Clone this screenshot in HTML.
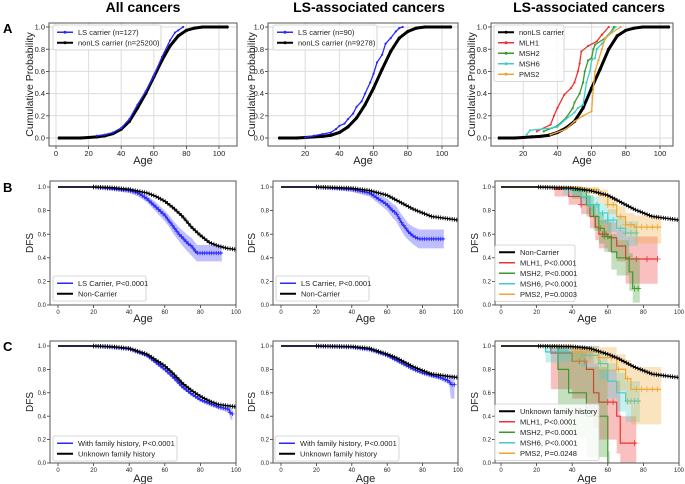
<!DOCTYPE html>
<html><head><meta charset="utf-8">
<style>
html,body{margin:0;padding:0;background:#fff;}
svg{display:block;font-family:"Liberation Sans",sans-serif;}
</style></head>
<body>
<svg id="fig" width="685" height="484" viewBox="0 0 685 484" xmlns="http://www.w3.org/2000/svg"></svg>
<script>
// ===== Data =====
const tickA1 = [0,20,40,60,80,100];
const tickA23 = [20,40,60,80,100];
const tickBC = [0,20,40,60,80,100];
const tickY = [0,0.2,0.4,0.6,0.8,1.0];

// Row A: cumulative probability
const a1NonAge = [2,15,20,25,30,35,40,45,50,55,60,65,70,75,80,85,90,105];
const a1NonVal = [0,0,0.005,0.01,0.02,0.04,0.08,0.15,0.27,0.4,0.55,0.7,0.83,0.92,0.97,0.99,1.0,1.0];
const a1LsAge = [25,30,35,40,45,50,55,60,65,70,73,75,78];
const a1LsVal = [0.02,0.03,0.05,0.09,0.17,0.3,0.42,0.56,0.73,0.88,0.95,0.97,1.0];

const a2NonAge = [5,15,20,25,30,35,40,45,50,55,60,65,70,75,80,85,90,105];
const a2NonVal = [0,0,0.005,0.01,0.015,0.025,0.05,0.1,0.18,0.3,0.45,0.62,0.78,0.9,0.96,0.99,1.0,1.0];
const a2LsAge = [20,25,30,35,38,40,43,45,48,50,53,55,58,60,62,65,67,70,73,75,77];
const a2LsVal = [0.005,0.02,0.035,0.05,0.08,0.11,0.13,0.17,0.22,0.28,0.33,0.4,0.5,0.58,0.68,0.75,0.85,0.9,0.96,0.99,1.0];

const a3NonAge = [6,15,20,25,30,35,40,45,50,55,60,65,70,75,80,85,90,105];
const a3NonVal = [0,0,0.005,0.01,0.015,0.025,0.05,0.09,0.15,0.27,0.45,0.62,0.8,0.92,0.97,0.99,1.0,1.0];
const a3Mlh1Age = [28,36,38,40,44,48,50,52,53,54,58,63,66,70];
const a3Mlh1Val = [0.06,0.12,0.2,0.27,0.39,0.45,0.5,0.6,0.67,0.78,0.83,0.87,0.93,1.0];
const a3Msh2Age = [32,40,45,49,50,53,55,56,58,60,61,62,68,72,73];
const a3Msh2Val = [0.06,0.11,0.18,0.27,0.32,0.4,0.5,0.6,0.7,0.72,0.8,0.84,0.9,0.97,1.0];
const a3Msh6Age = [22,24,37,40,45,50,52,55,57,59,60,62,63,66,70,74];
const a3Msh6Val = [0.03,0.07,0.09,0.1,0.17,0.23,0.27,0.3,0.5,0.6,0.7,0.72,0.8,0.85,0.93,1.0];
const a3Pms2Age = [36,45,50,55,60,61,62,64,66,68,72,77];
const a3Pms2Val = [0.03,0.08,0.15,0.2,0.24,0.45,0.6,0.7,0.8,0.9,0.95,1.0];

// Row B: DFS
const b1NonAge = [0,20,30,40,50,55,60,65,70,75,80,85,90,95,100];
const b1NonVal = [1,1,0.995,0.98,0.95,0.92,0.88,0.82,0.75,0.66,0.59,0.53,0.5,0.48,0.47];
const b1LsAge = [0,20,40,45,50,55,60,63,65,68,70,73,75,78,92];
const b1LsVal = [1,1,0.97,0.95,0.9,0.83,0.76,0.7,0.66,0.6,0.57,0.52,0.5,0.44,0.44];
const b1LsLo  = [1,1,0.95,0.92,0.87,0.79,0.71,0.65,0.6,0.54,0.5,0.45,0.42,0.37,0.37];
const b1LsHi  = [1,1,0.99,0.97,0.93,0.87,0.8,0.75,0.71,0.66,0.63,0.59,0.57,0.51,0.51];

const b2NonAge = [0,20,40,50,60,65,70,75,80,85,90,95,100];
const b2NonVal = [1,1,0.99,0.97,0.93,0.89,0.85,0.81,0.78,0.75,0.74,0.73,0.72];
const b2LsAge = [0,20,40,50,55,60,63,65,68,70,72,75,78,92];
const b2LsVal = [1,1,0.98,0.95,0.9,0.85,0.8,0.78,0.7,0.66,0.62,0.58,0.56,0.56];
const b2LsLo  = [1,1,0.96,0.92,0.86,0.8,0.74,0.71,0.63,0.58,0.55,0.51,0.48,0.48];
const b2LsHi  = [1,1,0.99,0.97,0.94,0.9,0.86,0.84,0.77,0.73,0.69,0.66,0.64,0.64];

const b3NonAge = b2NonAge;
const b3NonVal = b2NonVal;
const b3Mlh1Age = [0,30,38,45,50,53,55,60,65,70,88];
const b3Mlh1Val = [1,0.98,0.92,0.85,0.75,0.66,0.6,0.57,0.5,0.39,0.39];
const b3Mlh1Lo  = [1,0.92,0.85,0.77,0.65,0.55,0.48,0.45,0.37,0.18,0.18];
const b3Mlh1Hi  = [1,1,0.97,0.92,0.84,0.77,0.72,0.7,0.64,0.58,0.58];
const b3Mlh1Cen = [45,57,59,62,72,76,82,88];
const b3Msh2Age = [0,40,48,52,55,58,62,65,72,74,78];
const b3Msh2Val = [1,0.97,0.85,0.75,0.65,0.58,0.45,0.4,0.28,0.14,0.14];
const b3Msh2Lo  = [1,0.9,0.75,0.63,0.52,0.45,0.3,0.25,0.12,0.02,0.02];
const b3Msh2Hi  = [1,1,0.93,0.86,0.78,0.72,0.6,0.55,0.44,0.4,0.4];
const b3Msh2Cen = [56,58,60,75,77];
const b3Msh6Age = [0,35,45,50,55,60,65,70,77];
const b3Msh6Val = [1,0.98,0.92,0.85,0.78,0.72,0.65,0.61,0.61];
const b3Msh6Lo  = [1,0.93,0.85,0.77,0.69,0.62,0.55,0.5,0.5];
const b3Msh6Hi  = [1,1,0.97,0.92,0.86,0.81,0.75,0.71,0.71];
const b3Msh6Cen = [50,54,57,60,63,67,70,73,76];
const b3Pms2Age = [0,45,55,60,65,70,75,90];
const b3Pms2Val = [1,0.98,0.93,0.85,0.75,0.68,0.66,0.66];
const b3Pms2Lo  = [1,0.94,0.86,0.77,0.65,0.58,0.52,0.52];
const b3Pms2Hi  = [1,1,0.98,0.92,0.84,0.78,0.76,0.76];
const b3Pms2Cen = [60,63,67,70,73,76,79,82,85,88];

// Row C: DFS by family history
const c1NonAge = [0,20,30,40,50,60,65,70,75,80,85,90,95,100];
const c1NonVal = [1,1,0.995,0.98,0.93,0.83,0.76,0.68,0.62,0.57,0.53,0.5,0.49,0.48];
const c1FhAge = [0,20,30,40,50,60,65,70,75,80,85,90,96,97,98];
const c1FhVal = [1,1,0.99,0.975,0.92,0.8,0.73,0.65,0.59,0.54,0.51,0.48,0.46,0.42,0.42];
const c1FhLo  = [1,1,0.985,0.965,0.905,0.785,0.715,0.635,0.575,0.525,0.49,0.46,0.43,0.37,0.37];
const c1FhHi  = [1,1,0.995,0.985,0.935,0.815,0.745,0.665,0.605,0.555,0.53,0.5,0.49,0.47,0.47];

const c2NonAge = [0,20,40,50,60,65,70,75,80,85,90,95,100];
const c2NonVal = [1,1,0.995,0.98,0.93,0.9,0.86,0.82,0.79,0.76,0.75,0.74,0.73];
const c2FhAge = [0,20,40,50,60,65,70,75,80,85,90,95,96,98];
const c2FhVal = [1,1,0.99,0.97,0.92,0.88,0.84,0.8,0.77,0.75,0.73,0.7,0.67,0.67];
const c2FhLo  = [1,1,0.985,0.96,0.91,0.87,0.83,0.79,0.76,0.73,0.71,0.67,0.55,0.55];
const c2FhHi  = [1,1,0.995,0.98,0.93,0.89,0.85,0.81,0.78,0.77,0.75,0.74,0.75,0.75];

const c3NonAge = c2NonAge;
const c3NonVal = c2NonVal;
const c3Mlh1Age = [0,28,40,48,52,55,65,67,76];
const c3Mlh1Val = [1,0.94,0.87,0.8,0.6,0.52,0.4,0.17,0.17];
const c3Mlh1Lo  = [1,0.63,0.55,0.46,0.3,0.2,0.08,0.0,0.0];
const c3Mlh1Hi  = [1,1,1,0.97,0.85,0.8,0.7,0.4,0.4];
const c3Mlh1Cen = [44,47,60,63,75];
const c3Msh2Age = [0,32,38,48,55,60,61];
const c3Msh2Val = [1,0.8,0.6,0.4,0.4,0.0,0.0];
const c3Msh2Lo  = [1,0.45,0.22,0.05,0.05,0.0,0.0];
const c3Msh2Hi  = [1,1,0.95,0.82,0.82,0.1,0.1];
const c3Msh2Cen = [];
const c3Msh6Age = [0,25,45,55,60,65,70,78];
const c3Msh6Val = [1,0.95,0.92,0.85,0.7,0.6,0.53,0.53];
const c3Msh6Lo  = [1,0.86,0.82,0.72,0.55,0.44,0.35,0.35];
const c3Msh6Hi  = [1,1,1,0.95,0.85,0.77,0.7,0.7];
const c3Msh6Cen = [42,50,56,71,73,75,77];
const c3Pms2Age = [0,40,55,65,70,73,90];
const c3Pms2Val = [1,0.95,0.9,0.8,0.72,0.63,0.63];
const c3Pms2Lo  = [1,0.85,0.78,0.62,0.5,0.33,0.33];
const c3Pms2Hi  = [1,1,0.99,0.93,0.88,0.82,0.82];
const c3Pms2Cen = [45,55,62,66,71,76,79,82,85,88];

// ===== Drawing =====
const NS = "http://www.w3.org/2000/svg";
const svg = document.getElementById('fig');
function mk(tag, attrs, parent){
  const e = document.createElementNS(NS, tag);
  for (const k in attrs) e.setAttribute(k, attrs[k]);
  (parent||svg).appendChild(e);
  return e;
}
function txt(s, attrs, parent){ const t = mk('text', attrs, parent); t.textContent = s; return t; }

const BLUE='#2a2aff', RED='#f03030', GREEN='#3a9a2a', CYAN='#40cccc', ORANGE='#f0a530', BLACK='#000';

function makeAxes(name, g){
  const grp = mk('g', {});
  
  
  g.xs = v => g.x0 + v*g.k;
  g.ys = v => g.yz - v*(g.yz - g.yo);
  const fs = g.tickFs;
  if (g.grid){
    g.xt.forEach(v=>{ const l=mk('line',{x1:g.xs(v),x2:g.xs(v),y1:g.top,y2:g.bot,stroke:'#dcdcdc','stroke-width':1},grp);
        });
    tickY.forEach(v=>{ const l=mk('line',{x1:g.left,x2:g.right,y1:g.ys(v),y2:g.ys(v),stroke:'#dcdcdc','stroke-width':1},grp);
        });
  }
  g.xt.forEach(v=>{
    mk('line',{x1:g.xs(v),x2:g.xs(v),y1:g.bot,y2:g.bot+3,stroke:'#333','stroke-width':0.8},grp);
    const t=txt(String(v),{x:g.xs(v),y:g.bot+4+fs*0.8,'font-size':fs,'text-anchor':'middle',fill:'#222'},grp);
     
  });
  tickY.forEach(v=>{
    mk('line',{x1:g.left-3,x2:g.left,y1:g.ys(v),y2:g.ys(v),stroke:'#333','stroke-width':0.8},grp);
    const t=txt(v.toFixed(1),{x:g.left-4,y:g.ys(v)+fs*0.35,'font-size':fs,'text-anchor':'end',fill:'#222'},grp);
     
  });
  const xl=txt('Age',{x:(g.left+g.right)/2,y:g.ageY,'font-size':11,'text-anchor':'middle',fill:'#222'},grp);
   
  const cy=(g.top+g.bot)/2;
  const yl=txt(g.ylab,{x:g.ylx,y:cy,'font-size':g.ylfs,'text-anchor':'middle',fill:'#222',transform:`rotate(-90 ${g.ylx} ${cy})`},grp);
   
  const clip = mk('clipPath',{id:'clip-'+name},grp);
  mk('rect',{x:g.left,y:g.top,width:g.right-g.left,height:g.bot-g.top},clip);
  g.plot = mk('g',{'clip-path':`url(#clip-${name})`},grp);
  g.grp = grp;
  return g;
}
function frame(g){
  const r=mk('rect',{x:g.left,y:g.top,width:g.right-g.left,height:g.bot-g.top,fill:'none',stroke:'#555','stroke-width':1},g.grp);
   
}
function cdfLine(g, ages, vals, color, name, thick){
  const pts = ages.map((a,i)=>`${g.xs(a)},${g.ys(vals[i])}`).join(' ');
  const l = mk('polyline',{points:pts,fill:'none',stroke:color,'stroke-width':thick?3:1.3},g.plot);
  
  
  ages.forEach((a,i)=>{
    const c=mk('circle',{cx:g.xs(a),cy:g.ys(vals[i]),r:thick?1.6:1.1,fill:color},g.plot);
    
    
  });
}
function interp(ages, vals, a){
  if (a<=ages[0]) return vals[0];
  for (let i=1;i<ages.length;i++){ if (a<=ages[i]){ const t=(a-ages[i-1])/(ages[i]-ages[i-1]); return vals[i-1]+t*(vals[i]-vals[i-1]); } }
  return vals[vals.length-1];
}
function stepVal(ages, vals, a){
  let v=vals[0]; for (let i=0;i<ages.length;i++){ if (ages[i]<=a) v=vals[i]; } return v;
}
function cross(g, x, y, color, sz){
  const p=mk('path',{d:`M${x-sz},${y}H${x+sz}M${x},${y-sz}V${y+sz}`,stroke:color,'stroke-width':0.8,fill:'none'},g.plot);
  
  
}
function band(g, ages, lo, hi, color, name){
  const up=[], dn=[];
  for (let i=0;i<ages.length;i++){
    up.push([ages[i],hi[i]]); if (i<ages.length-1) up.push([ages[i+1],hi[i]]);
    dn.push([ages[i],lo[i]]); if (i<ages.length-1) dn.push([ages[i+1],lo[i]]);
  }
  const pts = up.concat(dn.reverse()).map(p=>`${g.xs(p[0])},${g.ys(p[1])}`).join(' ');
  const b=mk('polygon',{points:pts,fill:color,'fill-opacity':0.3,stroke:'none'},g.plot);
  
  
}
function smoothKM(g, ages, vals, color, name, censorFrom, bandLo, bandHi){
  if (bandLo){
    const pts = ages.map((a,i)=>`${g.xs(a)},${g.ys(bandHi[i])}`).concat(ages.slice().reverse().map((a,j)=>{const i=ages.length-1-j; return `${g.xs(a)},${g.ys(bandLo[i])}`;})).join(' ');
    const b=mk('polygon',{points:pts,fill:color,'fill-opacity':0.3,stroke:'none'},g.plot);
    
    
  }
  const pts = ages.map((a,i)=>`${g.xs(a)},${g.ys(vals[i])}`).join(' ');
  const l=mk('polyline',{points:pts,fill:'none',stroke:color,'stroke-width':1.4},g.plot);
  
  
  const end = ages[ages.length-1];
  for (let a=censorFrom; a<=end; a+=1.3) cross(g, g.xs(a), g.ys(interp(ages,vals,a)), color, 2.2);
}
function stepKM(g, ages, vals, lo, hi, cen, color, name){
  band(g, ages, lo, hi, color, name+'-ci-band');
  let d=`M${g.xs(ages[0])},${g.ys(vals[0])}`;
  for (let i=1;i<ages.length;i++) d+=`H${g.xs(ages[i])}V${g.ys(vals[i])}`;
  const p=mk('path',{d:d,fill:'none',stroke:color,'stroke-width':1.2},g.plot);
  
  
  cen.forEach(a=>cross(g, g.xs(a), g.ys(stepVal(ages,vals,a)), color, 3));
}
function legend(name, x, y, w, rowH, entries, fs, markers){
  const grp=mk('g',{});
  
  
  mk('rect',{x:x,y:y,width:w,height:rowH*entries.length+4,fill:'#fff','fill-opacity':0.85,stroke:'#ccc','stroke-width':0.8,rx:2},grp);
  entries.forEach((e,i)=>{
    const cy=y+2+rowH*(i+0.5);
    const eg=mk('g',{},grp);
    
    
    mk('line',{x1:x+4,x2:x+20,y1:cy,y2:cy,stroke:e[1],'stroke-width':e[1]===BLACK?2:1.5},eg);
    if (markers) mk('circle',{cx:x+12,cy:cy,r:1.5,fill:e[1]},eg);
    txt(e[0],{x:x+25,y:cy+fs*0.36,'font-size':fs,fill:'#222'},eg);
  });
}

// Titles & panel letters
[['All cancers',143],['LS-associated cancers',369],['LS-associated cancers',589]].forEach(([s,x])=>{
  const t=txt(s,{x:x,y:12,'font-size':14,'font-weight':'bold','text-anchor':'middle',fill:'#000'});
   
});
[['A',33],['B',192],['C',351]].forEach(([s,y])=>{
  const t=txt(s,{x:3,y:y,'font-size':13,'font-weight':'bold',fill:'#000'});
   
});

// ===== Row A =====
const rowA = {top:23,bot:146,yo:27,yz:138,grid:true,tickFs:7.5,ylab:'Cumulative Probability',ylfs:10.5,ageY:164};
const A1 = makeAxes('panel-a1', Object.assign({},rowA,{left:49,right:237,x0:56,k:1.63,xt:tickA1,ylx:33}));
cdfLine(A1,a1NonAge,a1NonVal,BLACK,'nonls-carrier-line',true);
cdfLine(A1,a1LsAge,a1LsVal,BLUE,'ls-carrier-line',false);
frame(A1);
legend('legend-a1',53,25,108,10.5,[['LS carrier (n=127)',BLUE],['nonLS carrier (n=25200)',BLACK]],7.5,true);

const A2 = makeAxes('panel-a2', Object.assign({},rowA,{left:268,right:458,x0:271,k:1.71,xt:tickA23,ylx:255}));
cdfLine(A2,a2NonAge,a2NonVal,BLACK,'nonls-carrier-line',true);
cdfLine(A2,a2LsAge,a2LsVal,BLUE,'ls-carrier-line',false);
frame(A2);
legend('legend-a2',273,25,104,10.5,[['LS carrier (n=90)',BLUE],['nonLS carrier (n=9278)',BLACK]],7.5,true);

const A3 = makeAxes('panel-a3', Object.assign({},rowA,{left:491,right:673,x0:489,k:1.71,xt:tickA23,ylx:475}));
cdfLine(A3,a3NonAge,a3NonVal,BLACK,'nonls-carrier-line',true);
cdfLine(A3,a3Mlh1Age,a3Mlh1Val,RED,'mlh1-line',false);
cdfLine(A3,a3Msh2Age,a3Msh2Val,GREEN,'msh2-line',false);
cdfLine(A3,a3Msh6Age,a3Msh6Val,CYAN,'msh6-line',false);
cdfLine(A3,a3Pms2Age,a3Pms2Val,ORANGE,'pms2-line',false);
frame(A3);
legend('legend-a3',494,25,70,10.5,[['nonLS carrier',BLACK],['MLH1',RED],['MSH2',GREEN],['MSH6',CYAN],['PMS2',ORANGE]],7.5,true);

// ===== Row B =====
const rowB = {top:181,bot:305,yo:187,yz:305,grid:false,tickFs:6,ylab:'DFS',ylfs:10,ageY:322};
const B1 = makeAxes('panel-b1', Object.assign({},rowB,{left:50,right:236,x0:58,k:1.78,xt:tickBC,ylx:33}));
smoothKM(B1,b1LsAge,b1LsVal,BLUE,'ls-carrier-curve',20,b1LsLo,b1LsHi);
smoothKM(B1,b1NonAge,b1NonVal,BLACK,'non-carrier-curve',20);
frame(B1);
legend('legend-b1',53,276,93,10.5,[['LS Carrier, P<0.0001',BLUE],['Non-Carrier',BLACK]],7.5,false);

const B2 = makeAxes('panel-b2', Object.assign({},rowB,{left:273,right:458,x0:281,k:1.77,xt:tickBC,ylx:255}));
smoothKM(B2,b2LsAge,b2LsVal,BLUE,'ls-carrier-curve',20,b2LsLo,b2LsHi);
smoothKM(B2,b2NonAge,b2NonVal,BLACK,'non-carrier-curve',20);
frame(B2);
legend('legend-b2',276,276,93,10.5,[['LS Carrier, P<0.0001',BLUE],['Non-Carrier',BLACK]],7.5,false);

const B3 = makeAxes('panel-b3', Object.assign({},rowB,{left:495,right:679,x0:501,k:1.78,xt:tickBC,ylx:478}));
stepKM(B3,b3Mlh1Age,b3Mlh1Val,b3Mlh1Lo,b3Mlh1Hi,b3Mlh1Cen,RED,'mlh1-curve');
stepKM(B3,b3Msh2Age,b3Msh2Val,b3Msh2Lo,b3Msh2Hi,b3Msh2Cen,GREEN,'msh2-curve');
stepKM(B3,b3Msh6Age,b3Msh6Val,b3Msh6Lo,b3Msh6Hi,b3Msh6Cen,CYAN,'msh6-curve');
stepKM(B3,b3Pms2Age,b3Pms2Val,b3Pms2Lo,b3Pms2Hi,b3Pms2Cen,ORANGE,'pms2-curve');
smoothKM(B3,b3NonAge,b3NonVal,BLACK,'non-carrier-curve',21);
frame(B3);
legend('legend-b3',495,245,80,10.5,[['Non-Carrier',BLACK],['MLH1, P<0.0001',RED],['MSH2, P<0.0001',GREEN],['MSH6, P<0.0001',CYAN],['PMS2, P=0.0003',ORANGE]],7.5,false);

// ===== Row C =====
const rowC = {top:341,bot:463,yo:346,yz:463,grid:false,tickFs:6,ylab:'DFS',ylfs:10,ageY:482};
const C1 = makeAxes('panel-c1', Object.assign({},rowC,{left:50,right:236,x0:58,k:1.78,xt:tickBC,ylx:33}));
smoothKM(C1,c1FhAge,c1FhVal,BLUE,'family-history-curve',20,c1FhLo,c1FhHi);
smoothKM(C1,c1NonAge,c1NonVal,BLACK,'unknown-family-history-curve',20);
frame(C1);
legend('legend-c1',53,436,124,10.5,[['With family history, P<0.0001',BLUE],['Unknown family history',BLACK]],7.5,false);

const C2 = makeAxes('panel-c2', Object.assign({},rowC,{left:273,right:458,x0:281,k:1.77,xt:tickBC,ylx:255}));
smoothKM(C2,c2FhAge,c2FhVal,BLUE,'family-history-curve',20,c2FhLo,c2FhHi);
smoothKM(C2,c2NonAge,c2NonVal,BLACK,'unknown-family-history-curve',20);
frame(C2);
legend('legend-c2',275,436,124,10.5,[['With family history, P<0.0001',BLUE],['Unknown family history',BLACK]],7.5,false);

const C3 = makeAxes('panel-c3', Object.assign({},rowC,{left:495,right:679,x0:501,k:1.78,xt:tickBC,ylx:478}));
stepKM(C3,c3Mlh1Age,c3Mlh1Val,c3Mlh1Lo,c3Mlh1Hi,c3Mlh1Cen,RED,'mlh1-curve');
stepKM(C3,c3Msh2Age,c3Msh2Val,c3Msh2Lo,c3Msh2Hi,c3Msh2Cen,GREEN,'msh2-curve');
stepKM(C3,c3Msh6Age,c3Msh6Val,c3Msh6Lo,c3Msh6Hi,c3Msh6Cen,CYAN,'msh6-curve');
stepKM(C3,c3Pms2Age,c3Pms2Val,c3Pms2Lo,c3Pms2Hi,c3Pms2Cen,ORANGE,'pms2-curve');
smoothKM(C3,c3NonAge,c3NonVal,BLACK,'unknown-family-history-curve',21);
frame(C3);
legend('legend-c3',495,404,104,10.5,[['Unknown family history',BLACK],['MLH1, P<0.0001',RED],['MSH2, P<0.0001',GREEN],['MSH6, P<0.0001',CYAN],['PMS2, P=0.0248',ORANGE]],7.5,false);
</script>
</body></html>
